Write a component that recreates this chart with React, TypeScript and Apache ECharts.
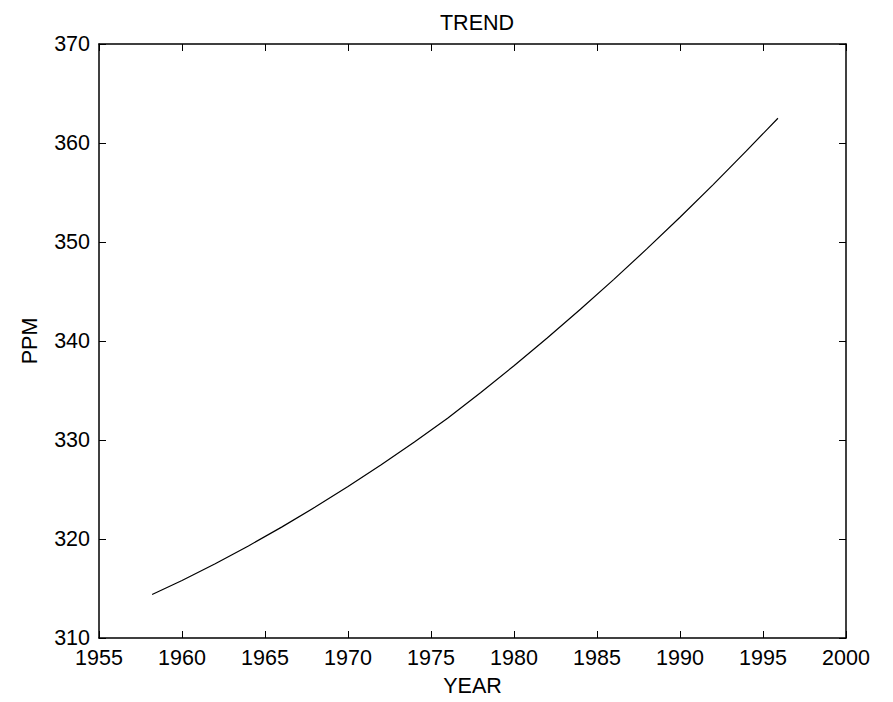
import React, { useEffect, useRef } from "react";
import * as echarts from "echarts";

const years = [1958.2, 1960, 1962, 1964, 1966, 1968, 1970, 1972, 1974, 1976, 1978, 1980, 1982, 1984, 1986, 1988, 1990, 1992, 1994, 1995.9];
const ppm = [314.4, 315.8, 317.5, 319.3, 321.2, 323.2, 325.3, 327.5, 329.8, 332.2, 334.8, 337.5, 340.3, 343.2, 346.2, 349.3, 352.5, 355.8, 359.2, 362.5];

const FONT = "'Liberation Sans', Arial, Helvetica, sans-serif";
const FS = 21.5;

export default function App() {
  const ref = useRef<HTMLDivElement>(null);
  useEffect(() => {
    if (!ref.current) return;
    const chart = echarts.init(ref.current, undefined, { renderer: "svg" });
    const lineStyle = { color: "#000", width: 1.5 };
    const tickStyle = { color: "#000", width: 1 };
    chart.setOption({
      animation: false,
      backgroundColor: "#fff",
      title: {
        text: "TREND",
        left: 472,
        top: 7,
        textAlign: "center",
        textStyle: { fontFamily: FONT, fontSize: FS, fontWeight: "normal", color: "#000" },
      },
      grid: { left: 99, right: 47, top: 44, bottom: 60, containLabel: false },
      xAxis: [
        {
          type: "value",
          min: 1955,
          max: 2000,
          interval: 5,
          name: "YEAR",
          nameLocation: "middle",
          nameGap: 37,
          nameTextStyle: { fontFamily: FONT, fontSize: FS, color: "#000" },
          axisLine: { lineStyle },
          axisTick: { inside: true, length: 7, lineStyle: tickStyle },
          axisLabel: {
            fontFamily: FONT,
            fontSize: FS,
            color: "#000",
            margin: 9,
            formatter: (v: number) => String(v),
          },
          splitLine: { show: false },
        },
        {
          type: "value",
          position: "top",
          min: 1955,
          max: 2000,
          interval: 5,
          axisLine: { lineStyle },
          axisTick: { inside: true, length: 7, lineStyle: tickStyle },
          axisLabel: { show: false },
          splitLine: { show: false },
        },
      ],
      yAxis: [
        {
          type: "value",
          min: 310,
          max: 370,
          interval: 10,
          name: "PPM",
          nameLocation: "middle",
          nameGap: 58,
          nameTextStyle: { fontFamily: FONT, fontSize: FS, color: "#000" },
          axisLine: { show: true, lineStyle },
          axisTick: { show: true, inside: true, length: 7, lineStyle: tickStyle },
          axisLabel: {
            fontFamily: FONT,
            fontSize: FS,
            color: "#000",
            margin: 9,
            formatter: (v: number) => String(v),
          },
          splitLine: { show: false },
        },
        {
          type: "value",
          position: "right",
          min: 310,
          max: 370,
          interval: 10,
          axisLine: { show: true, lineStyle },
          axisTick: { show: true, inside: true, length: 7, lineStyle: tickStyle },
          axisLabel: { show: false },
          splitLine: { show: false },
        },
      ],
      series: [
        {
          type: "line",
          xAxisIndex: 0,
          yAxisIndex: 0,
          data: years.map((y, i) => [y, ppm[i]]),
          smooth: false,
          showSymbol: false,
          lineStyle: { color: "#000", width: 1.2 },
        },
      ],
    });
    return () => chart.dispose();
  }, []);
  return (
    <div
      ref={ref}
      style={{ position: "fixed", left: 0, top: 0, width: 893, height: 702, background: "#fff" }}
    />
  );
}
